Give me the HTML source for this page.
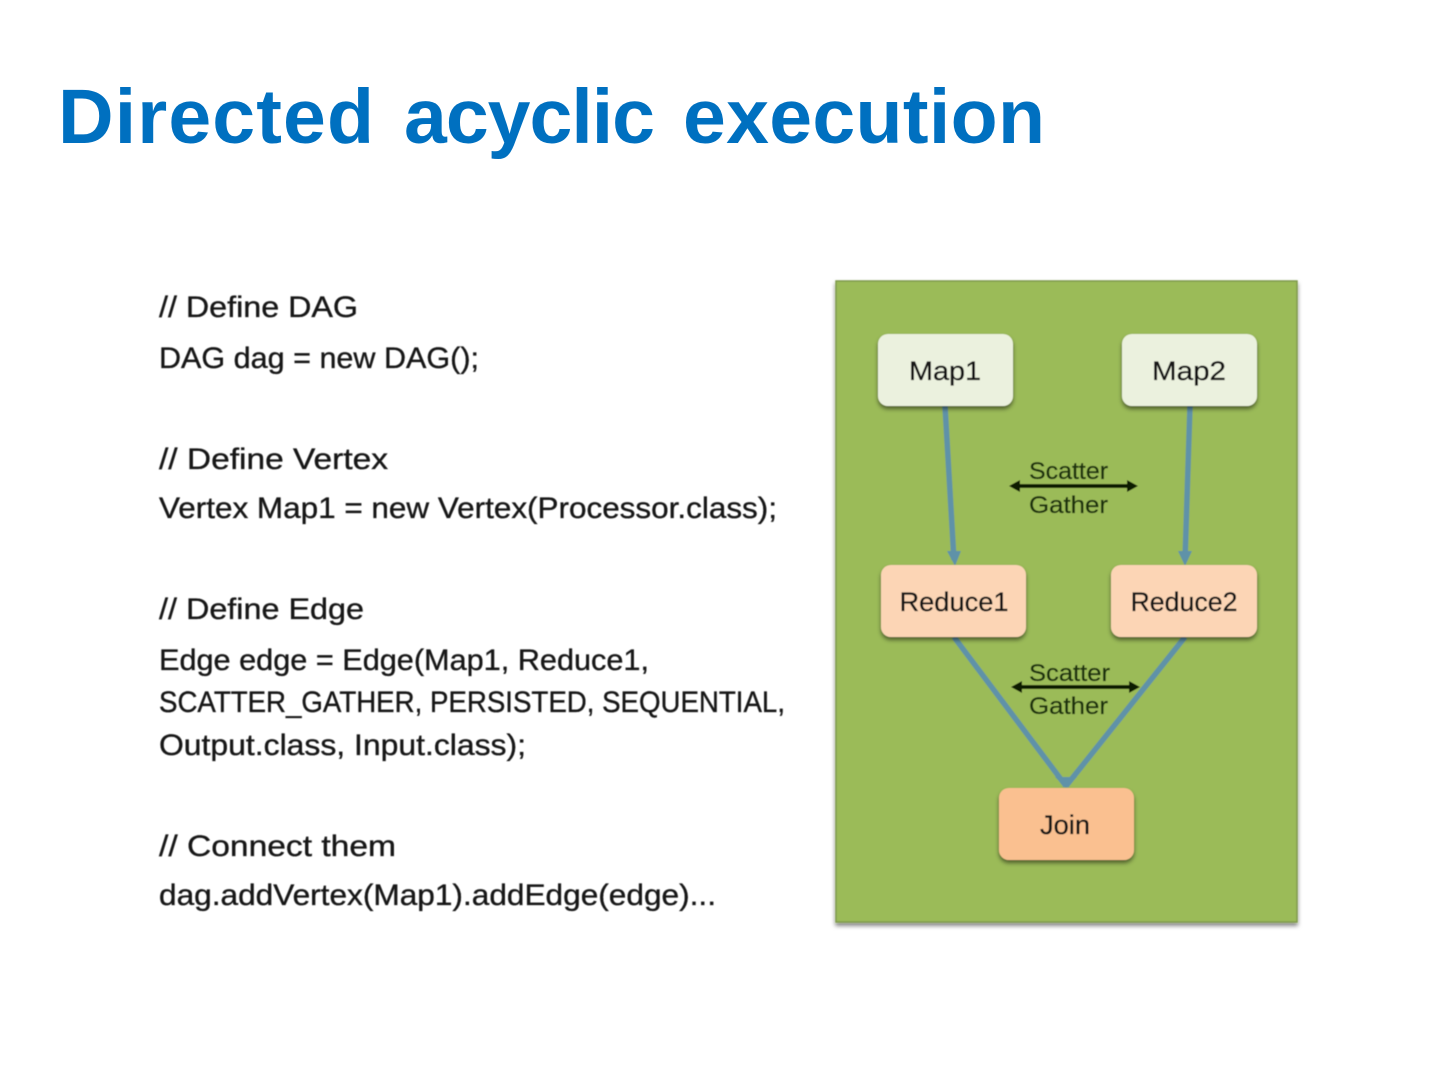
<!DOCTYPE html>
<html><head><meta charset="utf-8"><style>
html,body{margin:0;padding:0;background:#fff;width:1440px;height:1080px;overflow:hidden}
svg{display:block}
.h{font-family:"Liberation Sans",sans-serif;font-weight:bold;font-size:77px;fill:#0070c0}
.t{font-family:"Liberation Sans",sans-serif;fill:#161616;font-size:30px;stroke:#161616;stroke-width:.35}
.n{font-family:"Liberation Sans",sans-serif;fill:#161616;font-size:27px;text-anchor:middle;stroke:#161616;stroke-width:.35}
.s{font-family:"Liberation Sans",sans-serif;fill:#1d3210;font-size:24px;stroke:#1d3210;stroke-width:.3}
</style></head><body>
<svg width="1440" height="1080" viewBox="0 0 1440 1080" xmlns="http://www.w3.org/2000/svg">
<defs>
<filter id="b" x="-5%" y="-5%" width="110%" height="110%"><feGaussianBlur stdDeviation="0.6"/></filter>
<filter id="sh" x="-10%" y="-10%" width="120%" height="130%"><feDropShadow dx="0" dy="3" stdDeviation="2" flood-color="#000" flood-opacity=".5"/></filter>
</defs>
<text class="h" x="58" y="143" textLength="316" lengthAdjust="spacing">Directed</text>
<text class="h" x="404" y="143" textLength="251" lengthAdjust="spacing">acyclic</text>
<text class="h" x="683" y="143" textLength="362" lengthAdjust="spacing">execution</text>
<g filter="url(#b)">
<text class="t" x="159" y="317" textLength="199" lengthAdjust="spacingAndGlyphs">// Define DAG</text>
<text class="t" x="159" y="368" textLength="320" lengthAdjust="spacingAndGlyphs">DAG dag = new DAG();</text>
<text class="t" x="159" y="469" textLength="229" lengthAdjust="spacingAndGlyphs">// Define Vertex</text>
<text class="t" x="159" y="518" textLength="618" lengthAdjust="spacingAndGlyphs">Vertex Map1 = new Vertex(Processor.class);</text>
<text class="t" x="159" y="619" textLength="205" lengthAdjust="spacingAndGlyphs">// Define Edge</text>
<text class="t" x="159" y="670" textLength="490" lengthAdjust="spacingAndGlyphs">Edge edge = Edge(Map1, Reduce1,</text>
<text class="t" x="159" y="712" textLength="626" lengthAdjust="spacingAndGlyphs">SCATTER_GATHER, PERSISTED, SEQUENTIAL,</text>
<text class="t" x="159" y="755" textLength="367" lengthAdjust="spacingAndGlyphs">Output.class, Input.class);</text>
<text class="t" x="159" y="856" textLength="237" lengthAdjust="spacingAndGlyphs">// Connect them</text>
<text class="t" x="159" y="905" textLength="557" lengthAdjust="spacingAndGlyphs">dag.addVertex(Map1).addEdge(edge)...</text>

<rect x="836" y="281" width="461" height="641" fill="#9bbb59" stroke="#7f9a4c" stroke-width="1.500" filter="url(#sh)"/>

<g stroke="#5f92a8" stroke-width="5.500" fill="none">
<line x1="945" y1="406" x2="954" y2="560"/>
<line x1="1190" y1="406" x2="1185" y2="560"/>
<line x1="954" y1="637" x2="1066" y2="786"/>
<line x1="1185" y1="637" x2="1066" y2="786"/>
</g>
<path d="M947 551h14l-6 15z" fill="#5f92a8"/>
<path d="M1178 551h14l-7 15z" fill="#5f92a8"/>
<path d="M1055 777h22l-11 11z" fill="#5f92a8"/>

<rect x="878" y="334" width="135" height="72" rx="10" fill="#ebf1de" filter="url(#sh)"/>
<rect x="1122" y="334" width="135" height="72" rx="10" fill="#ebf1de" filter="url(#sh)"/>
<rect x="881" y="565" width="145" height="72" rx="10" fill="#fcd5b5" filter="url(#sh)"/>
<rect x="1111" y="565" width="146" height="72" rx="10" fill="#fcd5b5" filter="url(#sh)"/>
<rect x="999" y="788" width="135" height="72" rx="10" fill="#fac090" filter="url(#sh)"/>

<text class="n" x="945" y="380" textLength="72" lengthAdjust="spacingAndGlyphs">Map1</text>
<text class="n" x="1189" y="380" textLength="74" lengthAdjust="spacingAndGlyphs">Map2</text>
<text class="n" x="954" y="611" textLength="109" lengthAdjust="spacingAndGlyphs">Reduce1</text>
<text class="n" x="1184" y="611" textLength="107" lengthAdjust="spacingAndGlyphs">Reduce2</text>
<text class="n" x="1065" y="834" textLength="50" lengthAdjust="spacingAndGlyphs">Join</text>

<text class="s" x="1029" y="479" textLength="79" lengthAdjust="spacingAndGlyphs">Scatter</text>
<text class="s" x="1029" y="513" textLength="79" lengthAdjust="spacingAndGlyphs">Gather</text>
<text class="s" x="1029" y="681" textLength="81" lengthAdjust="spacingAndGlyphs">Scatter</text>
<text class="s" x="1029" y="714" textLength="79" lengthAdjust="spacingAndGlyphs">Gather</text>

<g fill="#0c1a06">
<rect x="1014" y="484" width="120" height="4"/>
<path d="M1009 486l11-6v12z"/><path d="M1138 486l-11-6v12z"/>
<rect x="1016" y="685" width="120" height="4"/>
<path d="M1011 687l11-6v12z"/><path d="M1140 687l-11-6v12z"/>
</g>
</g>
</svg>
</body></html>
